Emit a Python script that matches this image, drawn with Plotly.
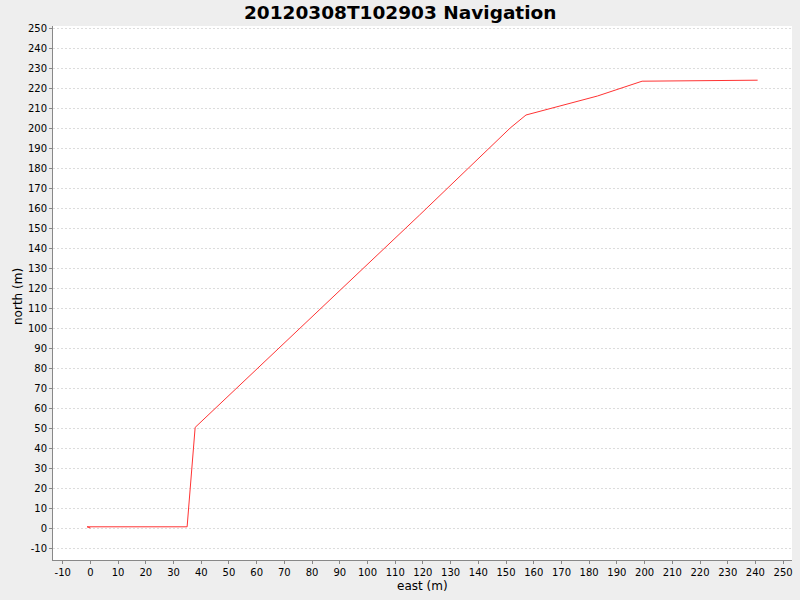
import plotly.graph_objects as go

# navigation track (m)
east = [0.0, -1.2, 34.9, 37.8, 118.8, 151.5, 157.2, 183.0, 199.1, 240.8]
north = [0.0, 0.6, 0.6, 50.3, 156.5, 200.0, 206.5, 216.0, 223.4, 223.9]

y_ticks = list(range(-10, 251, 10))
x_ticks = list(range(-10, 251, 10))

fig = go.Figure()
fig.add_trace(go.Scatter(x=east, y=north, mode='lines',
                         line=dict(color='#ff3333', width=1), showlegend=False))

fig.update_layout(
    paper_bgcolor='#eeeeee', plot_bgcolor='white',
    font=dict(family='DejaVu Sans', size=11, color='#333333'),
    width=800, height=600, autosize=False,
    margin=dict(l=53, r=8, t=26, b=40),
)
# titles placed by hand (JFreeChart style)
fig.add_annotation(text='<b>20120308T102903 Navigation</b>', xref='paper', yref='paper',
                   x=(400 - 53) / 739, y=1, yshift=14, xanchor='center', yanchor='middle',
                   showarrow=False, font=dict(family='DejaVu Sans', size=18.5, color='black'))
fig.add_annotation(text='east (m)', xref='paper', yref='paper', x=(422 - 53) / 739, y=0,
                   yshift=-26, xanchor='center', yanchor='middle', showarrow=False,
                   font=dict(size=12, color='black'))
fig.add_annotation(text='north (m)', xref='paper', yref='paper', x=0, y=(560 - 297) / 534,
                   xshift=-35, xanchor='center', yanchor='middle', textangle=-90, showarrow=False,
                   font=dict(size=12, color='black'))

fig.update_xaxes(range=[-13.5, 253.2], tickvals=x_ticks, ticktext=[str(v) for v in x_ticks],
                 showgrid=False, zeroline=False, automargin=False,
                 showline=True, linecolor='#888888', linewidth=1,
                 ticks='outside', ticklen=3, tickcolor='#888888',
                 tickfont=dict(size=10, color='black'))
fig.update_yaxes(range=[-16, 251], tickvals=y_ticks, ticktext=[str(v) for v in y_ticks],
                 showgrid=True, gridcolor='#dcdcdc',
                 griddash='2px,2px', gridwidth=1, zeroline=False, automargin=False,
                 showline=True, linecolor='#888888', linewidth=1,
                 ticks='outside', ticklen=3, tickcolor='#888888',
                 tickfont=dict(size=10, color='black'))

fig.write_html("out.html", config={'displayModeBar': False},
               post_script="document.body.style.margin='0';")
